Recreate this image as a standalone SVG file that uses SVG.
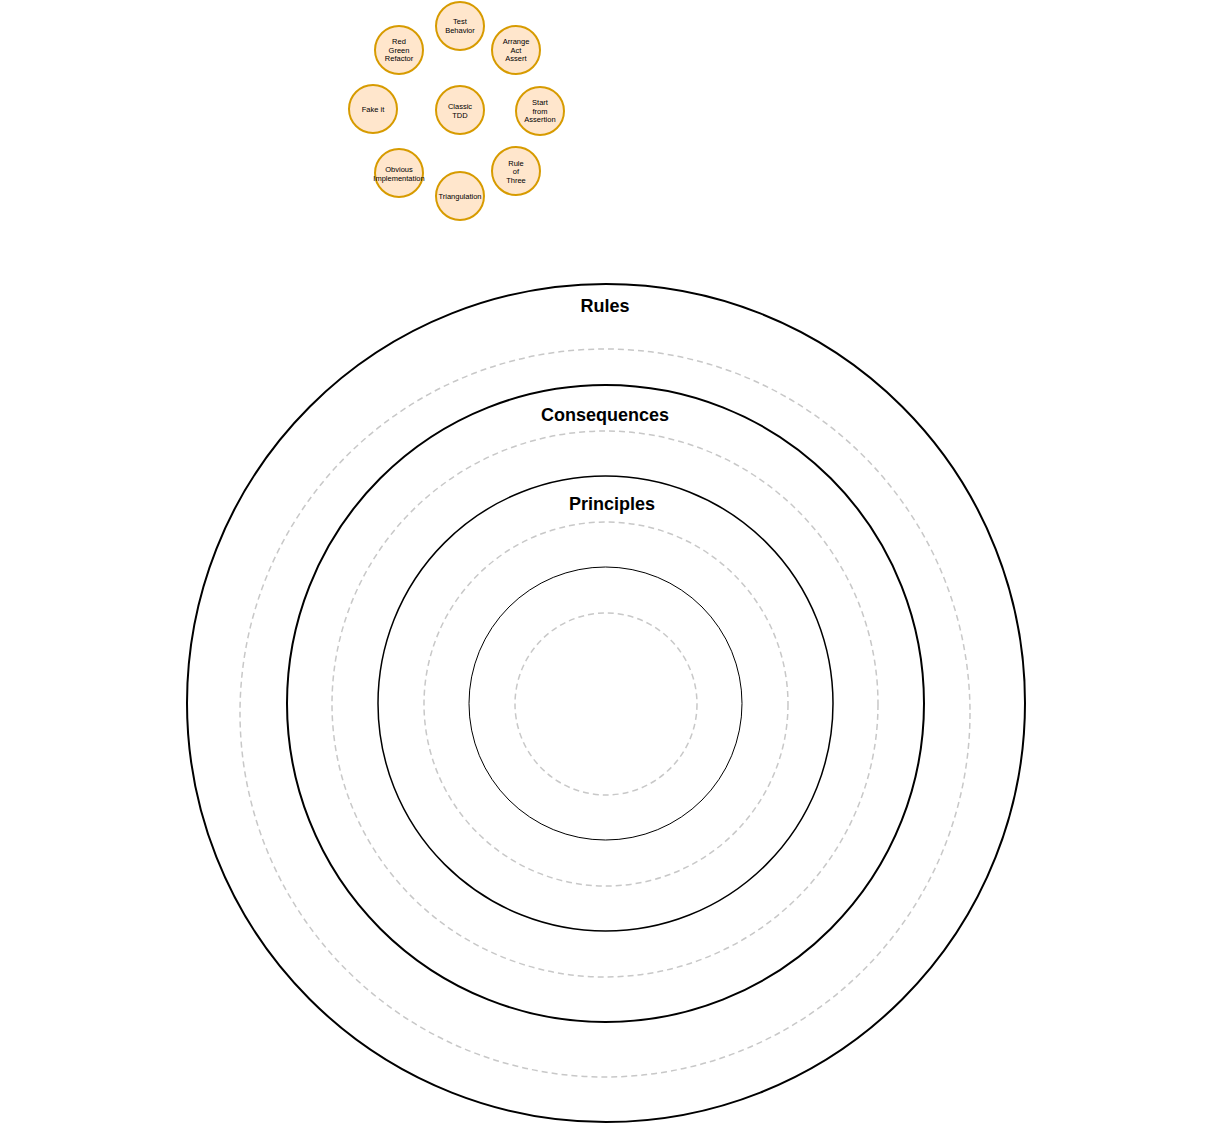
<svg xmlns="http://www.w3.org/2000/svg" width="1210" height="1124" viewBox="0 0 1210 1124">
<style>
.n circle{fill:#ffe6cc;stroke:#d79b00;stroke-width:2}
.n text{font-family:"Liberation Sans",Arial,sans-serif;font-size:7.5px;text-anchor:middle;fill:#000}
.ring{fill:none;stroke:#000}
.dash{fill:none;stroke:#c8c8c8;stroke-width:1.5;stroke-dasharray:6 4}
.t{font-family:"Liberation Sans",Arial,sans-serif;font-size:18px;font-weight:bold;text-anchor:middle}
</style>
<rect width="1210" height="1124" fill="#fff"/>
<g id="rings">
<circle class="ring" cx="606" cy="703" r="419" stroke-width="2"/>
<ellipse class="dash" cx="605" cy="713" rx="365" ry="364"/>
<circle class="ring" cx="605.5" cy="703.5" r="318.5" stroke-width="2"/>
<circle class="dash" cx="605" cy="704" r="273"/>
<circle class="ring" cx="605.5" cy="703.5" r="227.5" stroke-width="1.5"/>
<circle class="dash" cx="606" cy="704" r="182"/>
<circle class="ring" cx="605.5" cy="703.5" r="136.5" stroke-width="1"/>
<circle class="dash" cx="606" cy="704" r="91"/>
<text class="t" x="605" y="312">Rules</text>
<text class="t" x="605" y="421">Consequences</text>
<text class="t" x="612" y="510">Principles</text>
</g>
<g id="connectors"></g>
<g id="n-test" class="n"><circle cx="460" cy="26" r="24"/><text x="460" y="24">Test</text><text x="460" y="33">Behavior</text></g>
<g id="n-aaa" class="n"><circle cx="516" cy="50" r="24"/><text x="516" y="44">Arrange</text><text x="516" y="53">Act</text><text x="516" y="61">Assert</text></g>
<g id="n-start" class="n"><circle cx="540" cy="111" r="24"/><text x="540" y="105">Start</text><text x="540" y="114">from</text><text x="540" y="122">Assertion</text></g>
<g id="n-rule" class="n"><circle cx="516" cy="171" r="24"/><text x="516" y="166">Rule</text><text x="516" y="174">of</text><text x="516" y="183">Three</text></g>
<g id="n-tri" class="n"><circle cx="460" cy="196" r="24"/><text x="460" y="199">Triangulation</text></g>
<g id="n-obv" class="n"><circle cx="399" cy="173" r="24"/><text x="399" y="172">Obvious</text><text x="399" y="181">Implementation</text></g>
<g id="n-fake" class="n"><circle cx="373" cy="109" r="24"/><text x="373" y="112">Fake it</text></g>
<g id="n-rgr" class="n"><circle cx="399" cy="50" r="24"/><text x="399" y="44">Red</text><text x="399" y="53">Green</text><text x="399" y="61">Refactor</text></g>
<g id="n-classic" class="n"><circle cx="460" cy="110" r="24"/><text x="460" y="109">Classic</text><text x="460" y="118">TDD</text></g>
</svg>
